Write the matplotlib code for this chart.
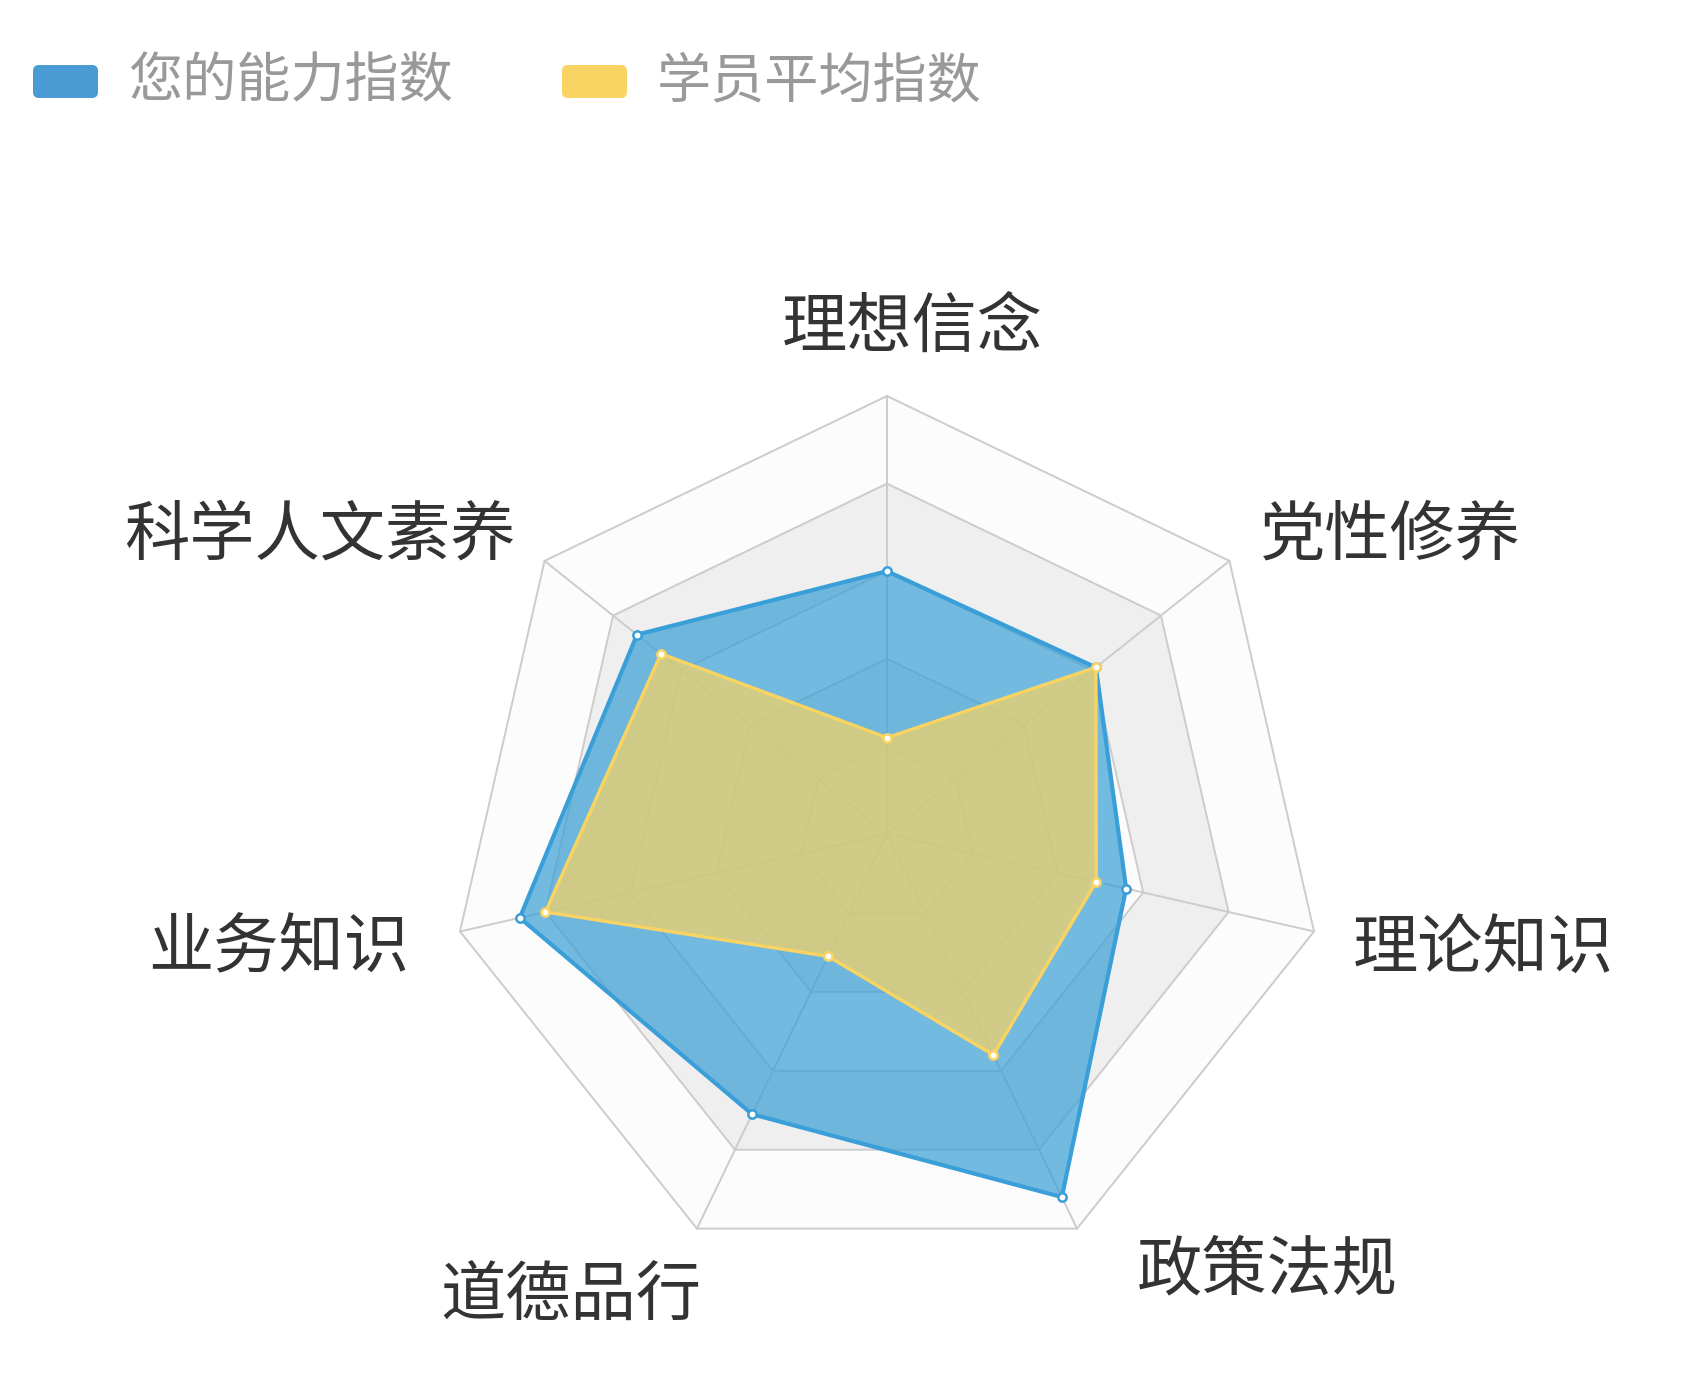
import matplotlib
matplotlib.use('Agg')
import matplotlib.pyplot as plt
from matplotlib.patches import FancyBboxPatch
import numpy as np

plt.rcParams['font.family'] = ['Noto Sans CJK SC', 'DejaVu Sans']

# data
indicators = ['理想信念', '党性修养', '理论知识', '政策法规', '道德品行', '业务知识', '科学人文素养']
max_value = 100
my_scores = [60, 61, 56, 92, 71, 86, 73]
avg_scores = [22, 61, 49, 56, 31, 80, 66]
series_names = ['您的能力指数', '学员平均指数']

# look
line_colors = ['#3a9fd8', '#f9d462']
fill_colors = ['#399fd5', '#f9d562']
legend_colors = ['#4a9ad4', '#f9d463']
split_colors = ['#fcfcfc', '#efefef']
grid_color = '#cccccc'

W, H = 1702, 1386
cx, cy, R = 887, 834, 438   # radar centre / radius in pixels
# small pixel nudges for the indicator names (dx right, dy down)
name_nudge = [(25, 5), (0, 0), (0, 9), (43, -26), (21, 0), (-12, 9), (2, 0)]

fig = plt.figure(figsize=(W / 100, H / 100), dpi=100)
ax = fig.add_axes([0, 0, 1, 1])
s = R / max_value
ax.set_xlim(-cx / s, (W - cx) / s)
ax.set_ylim(-(H - cy) / s, cy / s)
ax.axis('off')

n = len(indicators)
ang = np.pi / 2 - 2 * np.pi * np.arange(n) / n
ux, uy = np.cos(ang), np.sin(ang)


def ring(r):
    return np.append(r * ux, r * ux[0]), np.append(r * uy, r * uy[0])


# split areas, outer first so inner rings sit on top
split = 5
for i in range(split, 0, -1):
    x, y = ring(max_value * i / split)
    ax.fill(x, y, color=split_colors[(i - 1) % 2], lw=0, zorder=1)
for i in range(1, split + 1):
    x, y = ring(max_value * i / split)
    ax.plot(x, y, color=grid_color, lw=1.4, zorder=2)
for k in range(n):
    ax.plot([0, max_value * ux[k]], [0, max_value * uy[k]], color=grid_color, lw=1.4, zorder=2)

# series
for j, vals in enumerate([my_scores, avg_scores]):
    v = np.array(vals, dtype=float)
    x = np.append(v * ux, v[0] * ux[0])
    y = np.append(v * uy, v[0] * uy[0])
    ax.fill(x, y, color=fill_colors[j], alpha=0.7, lw=0, zorder=3 + j)
    ax.plot(x, y, color=line_colors[j], lw=3.0 if j == 0 else 2.4, zorder=3.5 + j,
            solid_joinstyle='round')
    ax.plot(x[:-1], y[:-1], 'o', ms=6, mfc='white', mec=line_colors[j], mew=1.8,
            zorder=3.6 + j)

# indicator names
gap = 9
for k, name in enumerate(indicators):
    c, sn = ux[k], uy[k]
    ha = 'center' if abs(c) < 0.01 else ('left' if c > 0 else 'right')
    if sn > 0.9:
        va = 'bottom'
    elif sn < -0.5:
        va = 'top'
    else:
        va = 'center'
    rr = max_value + gap
    dx, dy = name_nudge[k]
    ax.text(rr * c + dx / s, rr * sn - dy / s, name, ha=ha, va=va,
            fontsize=47, color='#333333')

# legend
lg = fig.add_axes([0, 0, 1, 1])
lg.set_xlim(0, W)
lg.set_ylim(H, 0)
lg.axis('off')
legend_x = [33, 562]
for j, name in enumerate(series_names):
    lg.add_patch(FancyBboxPatch((legend_x[j] + 4, 69), 57, 25,
                                boxstyle='round,pad=4,rounding_size=6',
                                fc=legend_colors[j], ec='none'))
    lg.text(legend_x[j] + 95, 82, name, ha='left', va='center', fontsize=39, color='#999999')

fig.savefig('out.png', dpi=100, facecolor='white')
